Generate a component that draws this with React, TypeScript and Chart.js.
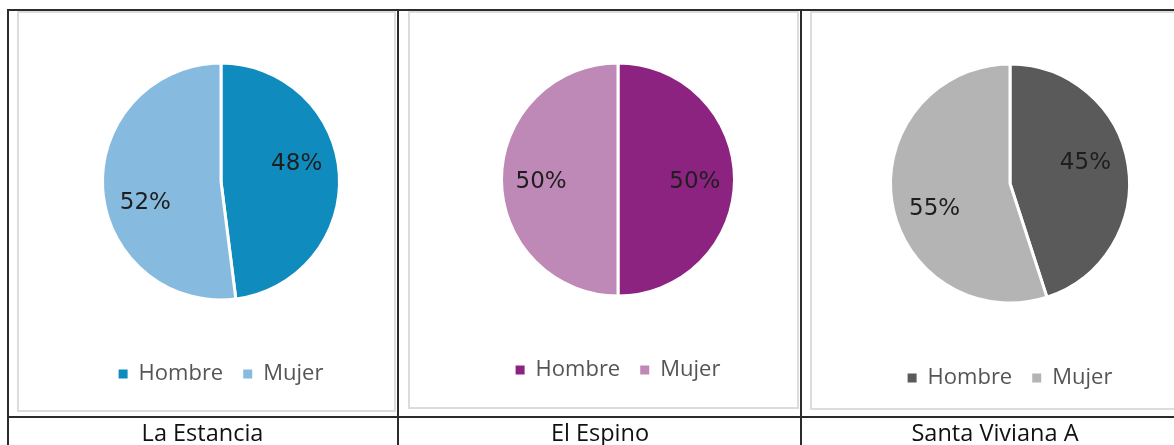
import React, { useEffect, useRef } from "react";
import { Chart, registerables } from "chart.js";

Chart.register(...registerables);

// ---- data ----
const categories = ["Hombre", "Mujer"];
const places = ["La Estancia", "El Espino", "Santa Viviana A"];
const laEstancia = [48, 52];
const elEspino = [50, 50];
const santaViviana = [45, 55];

const colorsLaEstancia = ["#0F8BBD", "#87BADF"];
const colorsElEspino = ["#8C2381", "#BE88B7"];
const colorsSantaViviana = ["#5A5A5A", "#B4B4B4"];

// ---- layout (styling only) ----
type Panel = {
  title: string;
  values: number[];
  colors: string[];
  cx: number;
  cy: number;
  r: number;
  legendY: number;
  labelShift: number;
  box: { left: number; top: number; right: number; bottom: number };
  captionX: number;
};

const panels: Panel[] = [
  {
    title: places[0], values: laEstancia, colors: colorsLaEstancia,
    cx: 221, cy: 181.5, r: 118.5, legendY: 373, labelShift: -11,
    box: { left: 17, top: 11, right: 396, bottom: 412 }, captionX: 202.5,
  },
  {
    title: places[1], values: elEspino, colors: colorsElEspino,
    cx: 618, cy: 179.5, r: 116.5, legendY: 369, labelShift: 0,
    box: { left: 408, top: 11, right: 799, bottom: 409 }, captionX: 600,
  },
  {
    title: places[2], values: santaViviana, colors: colorsSantaViviana,
    cx: 1010, cy: 183.5, r: 119.5, legendY: 377, labelShift: -8,
    box: { left: 810, top: 11, right: 1190, bottom: 410 }, captionX: 995,
  },
];

const CW = 320;
const CH = 420;
const LEGEND_FONT = 22;
const LEGEND_PAD = 20;
const LEGEND_TEXT_OFFSET = 9;
const LABEL_FONT = 23;

const pctLabels = {
  id: "pctLabels",
  afterDatasetsDraw(chart: any, _args: any, opts: any) {
    const ctx = chart.ctx;
    const meta = chart.getDatasetMeta(0);
    const data = chart.data.datasets[0].data as number[];
    ctx.save();
    ctx.font = LABEL_FONT + "px 'DejaVu Sans'";
    ctx.fillStyle = "#1E1E1E";
    ctx.textAlign = "center";
    ctx.textBaseline = "alphabetic";
    meta.data.forEach((arc: any, i: number) => {
      const p = arc.getProps(["x", "y", "startAngle", "endAngle", "outerRadius"], true);
      const mid = (p.startAngle + p.endAngle) / 2 + ((opts.shift || 0) * Math.PI) / 180;
      const d = p.outerRadius * 0.66;
      ctx.fillText(
        data[i] + "%",
        p.x + Math.cos(mid) * d,
        p.y + Math.sin(mid) * d + LABEL_FONT * 0.36
      );
    });
    ctx.restore();
  },
};

function PieChart({ p }: { p: Panel }) {
  const ref = useRef<HTMLCanvasElement>(null);
  useEffect(() => {
    if (!ref.current) return;
    const legendH = LEGEND_FONT + LEGEND_PAD + 10;
    const padB = CH - (LEGEND_PAD + LEGEND_FONT / 2) - p.legendY + LEGEND_TEXT_OFFSET;
    const chartBottom = CH - padB - legendH;
    const padT = 2 * p.cy - chartBottom;
    const chart = new Chart(ref.current, {
      type: "pie",
      data: {
        labels: categories,
        datasets: [
          {
            data: p.values,
            backgroundColor: p.colors,
            borderColor: "#FFFFFF",
            borderWidth: 3,
          },
        ],
      },
      options: {
        animation: false,
        responsive: false,
        radius: p.r,
        layout: { padding: { top: padT, bottom: padB, left: 0, right: 0 } },
        plugins: {
          tooltip: { enabled: false },
          pctLabels: { shift: p.labelShift },
          legend: {
            position: "bottom",
            labels: {
              boxWidth: 9,
              boxHeight: 9,
              padding: LEGEND_PAD,
              color: "#555555",
              font: { family: "'Open Sans'", size: LEGEND_FONT },
              generateLabels: (chart: any) =>
                (Chart as any).overrides.pie.plugins.legend.labels
                  .generateLabels(chart)
                  .map((l: any) => ({ ...l, lineWidth: 0 })),
            },
          },
        } as any,
      },
      plugins: [pctLabels],
    });
    return () => chart.destroy();
  }, [p]);
  return (
    <canvas
      ref={ref}
      width={CW}
      height={CH}
      style={{ position: "absolute", left: p.cx - CW / 2, top: 0, width: CW, height: CH }}
    />
  );
}

const line = "#2B2B2B";

export default function App() {
  return (
    <div
      style={{
        position: "absolute", left: 0, top: 0, width: 1174, height: 445,
        overflow: "hidden", background: "#FFFFFF",
      }}
    >
      {panels.map((p, i) => (
        <div
          key={"box" + i}
          style={{
            position: "absolute", left: p.box.left, top: p.box.top,
            width: p.box.right - p.box.left, height: p.box.bottom - p.box.top,
            border: "2px solid #DCDCDC", boxSizing: "border-box",
          }}
        />
      ))}
      {panels.map((p, i) => (
        <PieChart key={"c" + i} p={p} />
      ))}
      {/* table borders */}
      <div style={{ position: "absolute", left: 7, top: 9, width: 1200, height: 2, background: line }} />
      <div style={{ position: "absolute", left: 7, top: 416, width: 1200, height: 2, background: line }} />
      <div style={{ position: "absolute", left: 7, top: 9, width: 2, height: 440, background: line }} />
      <div style={{ position: "absolute", left: 397, top: 9, width: 2, height: 440, background: line }} />
      <div style={{ position: "absolute", left: 800, top: 9, width: 2, height: 440, background: line }} />
      {panels.map((p, i) => (
        <div
          key={"cap" + i}
          style={{
            position: "absolute", left: p.captionX - 150, top: 418, width: 300,
            height: 28, lineHeight: "28px", textAlign: "center",
            fontFamily: "'Open Sans'", fontSize: 23.5, color: "#111111", whiteSpace: "nowrap",
          }}
        >
          {p.title}
        </div>
      ))}
    </div>
  );
}
